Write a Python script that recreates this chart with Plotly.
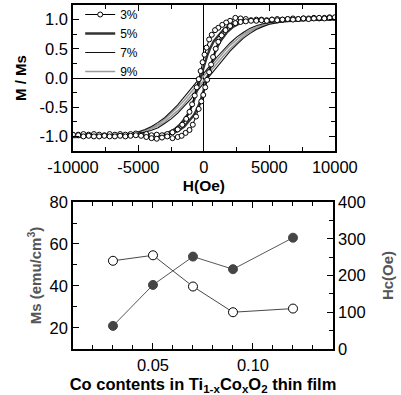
import plotly.graph_objects as go

# ---------------- top panel: hysteresis loops (H in Oe, M/Ms) ----------------
h3 = [10000, 9600, 9200, 8800, 8400, 8000, 7600, 7200, 6800, 6400, 6000, 5600, 5200, 4800, 4400,
      4000, 3600, 3200, 2800, 2400, 2000, 1700, 1400, 1100, 850, 600, 400, 200, 50, -100, -250,
      -400, -550, -700, -900, -1100, -1350, -1650, -2000, -2400, -2800, -3200, -3600, -4000,
      -4400, -4800, -5200, -5600, -6000, -6400, -6800, -7200, -7600, -8000, -8400, -8800, -9200,
      -9600, -10000,
      -9600, -9200, -8800, -8400, -8000, -7600, -7200, -6800, -6400, -6000, -5600, -5200, -4800,
      -4400, -4000, -3600, -3200, -2800, -2400, -2000, -1700, -1400, -1100, -850, -600, -400,
      -200, -50, 100, 250, 400, 550, 700, 900, 1100, 1350, 1650, 2000, 2400, 2800, 3200, 3600,
      4000, 4400, 4800, 5200, 5600, 6000, 6400, 6800, 7200, 7600, 8000, 8400, 8800, 9200, 9600,
      10000]
m3 = [1.03, 1.04, 1.03, 1.02, 1.03, 1.02, 1.02, 1.01, 1.02, 1.01, 1.00, 1.01, 1.00, 0.99, 1.00,
      1.00, 0.99, 1.01, 1.02, 1.03, 0.98, 0.95, 0.91, 0.86, 0.82, 0.74, 0.66, 0.52, 0.40, 0.27,
      0.12, -0.02, -0.16, -0.30, -0.45, -0.58, -0.70, -0.80, -0.88, -0.93, -0.96, -0.98, -0.97,
      -0.98, -0.96, -0.97, -0.95, -0.96, -0.97, -0.96, -0.97, -0.96, -0.98, -0.97, -0.96, -0.97,
      -0.96, -0.97, -0.97,
      -0.98, -1.00, -0.99, -1.00, -1.00, -0.99, -1.00, -1.00, -0.99, -1.00, -0.99, -0.98, -0.99,
      -1.01, -1.03, -1.04, -1.02, -1.00, -1.03, -1.01, -0.99, -0.94, -0.89, -0.80, -0.66, -0.53,
      -0.40, -0.29, -0.16, -0.03, 0.10, 0.23, 0.36, 0.50, 0.62, 0.73, 0.82, 0.89, 0.94, 0.96,
      0.97, 0.98, 0.98, 0.99, 0.98, 1.00, 0.99, 1.00, 1.01, 1.00, 1.01, 1.02, 1.01, 1.02, 1.03,
      1.02, 1.03, 1.04]

h5 = [10000, 9000, 8000, 7000, 6000, 5000, 4000, 3500, 3000, 2500, 2000, 1500, 1000, 750, 500,
      250, 0, -250, -500, -750, -1000, -1250, -1750, -2250, -2750, -3250, -4000, -5000, -6000,
      -7000, -8000, -9000, -10000,
      -9000, -8000, -7000, -6000, -5000, -4000, -3500, -3000, -2500, -2000, -1500, -1000, -750,
      -500, -250, 0, 250, 500, 750, 1000, 1250, 1750, 2250, 2750, 3250, 4000, 5000, 6000, 7000,
      8000, 9000, 10000]
m5 = [1.01, 1.005, 1.00, 0.998, 0.995, 0.99, 0.982, 0.978, 0.972, 0.955, 0.91, 0.83, 0.705, 0.63,
      0.52, 0.38, 0.20, 0.00, -0.20, -0.38, -0.52, -0.63, -0.78, -0.88, -0.94, -0.97, -0.978,
      -0.988, -0.993, -0.997, -1.00, -1.00, -1.01,
      -1.005, -1.00, -0.998, -0.995, -0.99, -0.982, -0.978, -0.972, -0.955, -0.91, -0.83, -0.705,
      -0.63, -0.52, -0.38, -0.20, 0.00, 0.20, 0.38, 0.52, 0.63, 0.78, 0.88, 0.94, 0.97, 0.978,
      0.988, 0.993, 0.997, 1.00, 1.00, 1.01]

h79 = [10000, 9000, 8000, 7000, 6000, 5000, 4500, 4000, 3500, 3000, 2500, 2000, 1500, 1000, 500,
       0, -500, -1000, -1500, -2000, -2500, -3000, -3500, -4000, -4500, -5000, -6000, -7000,
       -8000, -9000, -10000,
       -9000, -8000, -7000, -6000, -5000, -4500, -4000, -3500, -3000, -2500, -2000, -1500, -1000,
       -500, 0, 500, 1000, 1500, 2000, 2500, 3000, 3500, 4000, 4500, 5000, 6000, 7000, 8000,
       9000, 10000]
m7 = [1.00, 1.00, 0.99, 0.985, 0.975, 0.95, 0.93, 0.895, 0.85, 0.78, 0.70, 0.60, 0.48, 0.36, 0.22,
      0.08, -0.06, -0.20, -0.33, -0.46, -0.57, -0.68, -0.76, -0.83, -0.88, -0.92, -0.96, -0.975,
      -0.985, -0.99, -1.00,
      -1.00, -0.99, -0.985, -0.975, -0.95, -0.93, -0.895, -0.85, -0.78, -0.70, -0.60, -0.48,
      -0.36, -0.22, -0.08, 0.06, 0.20, 0.33, 0.46, 0.57, 0.68, 0.76, 0.83, 0.88, 0.92, 0.96,
      0.975, 0.985, 0.99, 1.00]
m9 = [1.00, 0.995, 0.99, 0.98, 0.965, 0.94, 0.91, 0.87, 0.82, 0.75, 0.66, 0.56, 0.44, 0.31, 0.17,
      0.04, -0.11, -0.25, -0.38, -0.50, -0.61, -0.71, -0.79, -0.85, -0.90, -0.93, -0.96, -0.975,
      -0.985, -0.99, -0.99,
      -0.99, -0.985, -0.975, -0.96, -0.94, -0.91, -0.87, -0.82, -0.75, -0.66, -0.56, -0.44,
      -0.31, -0.17, -0.04, 0.11, 0.25, 0.38, 0.50, 0.61, 0.71, 0.79, 0.85, 0.90, 0.93, 0.965,
      0.98, 0.99, 0.995, 1.00]

h_ticks = [-10000, -5000, 0, 5000, 10000]
h_ticktext = ["-10000", "-5000", "0", "5000", "10000"]
m_ticks = [-1.0, -0.5, 0.0, 0.5, 1.0]
m_ticktext = ["-1.0", "-0.5", "0.0", "0.5", "1.0"]

# ---------------- bottom panel ----------------
co = [0.03, 0.05, 0.07, 0.09, 0.12]
ms = [21, 40.5, 54, 48, 63]
hc = [240, 255, 170, 100, 110]
co_ticks = [0.05, 0.10]
co_ticktext = ["0.05", "0.10"]
ms_ticks = [20, 40, 60, 80]
hc_ticks = [0, 100, 200, 300, 400]

FONT = "Liberation Sans, Arial, sans-serif"

fig = go.Figure()

fig.add_trace(go.Scatter(x=h79, y=m9, mode="lines", name="9%", legendrank=4,
                         line=dict(color="#9a9a9a", width=1.6), xaxis="x", yaxis="y"))
fig.add_trace(go.Scatter(x=h79, y=m7, mode="lines", name="7%", legendrank=3,
                         line=dict(color="#111111", width=1.1), xaxis="x", yaxis="y"))
fig.add_trace(go.Scatter(x=h5, y=m5, mode="lines", name="5%", legendrank=2,
                         line=dict(color="#333333", width=2.4), xaxis="x", yaxis="y"))
fig.add_trace(go.Scatter(x=h3, y=m3, mode="lines+markers", name="3%", legendrank=1,
                         line=dict(color="#000000", width=1),
                         marker=dict(symbol="circle", size=5, color="white",
                                     line=dict(color="black", width=1)),
                         xaxis="x", yaxis="y"))

fig.add_trace(go.Scatter(x=co, y=ms, mode="lines+markers", showlegend=False,
                         line=dict(color="#444444", width=0.9),
                         marker=dict(size=9, color="#454545", line=dict(color="#454545", width=1)),
                         xaxis="x2", yaxis="y2"))
fig.add_trace(go.Scatter(x=co, y=hc, mode="lines+markers", showlegend=False,
                         line=dict(color="#333333", width=0.9),
                         marker=dict(size=9, color="white", line=dict(color="black", width=1)),
                         xaxis="x2", yaxis="y3"))

axis_common = dict(showline=True, linecolor="black", linewidth=1.5, ticks="inside",
                   ticklen=6, tickwidth=1, tickcolor="black", showgrid=False, automargin=False,
                   tickfont=dict(family=FONT, size=16.5, color="black"))

fig.update_layout(
    width=401, height=395, margin=dict(l=0, r=0, t=0, b=0, autoexpand=False),
    paper_bgcolor="white", plot_bgcolor="white",
    font=dict(family=FONT, color="black"),
    showlegend=True,
    legend=dict(x=0.2, y=1.0, xanchor="left", yanchor="top", bgcolor="rgba(0,0,0,0)",
                font=dict(family=FONT, size=12, color="black"), borderwidth=0),
    xaxis=dict(axis_common, domain=[0.182, 0.835], range=[-10000, 10000], anchor="y",
               tickmode="array", tickvals=h_ticks, ticktext=h_ticktext, mirror="ticks",
               zeroline=True, zerolinecolor="black", zerolinewidth=1.3,
               minor=dict(dtick=2500, ticks="inside", ticklen=4, tickcolor="black"),
               title=dict(text="<b>H(Oe)</b>", font=dict(family=FONT, size=15.5), standoff=6)),
    yaxis=dict(axis_common, domain=[0.6177, 0.9873], range=[-1.25, 1.25], anchor="x",
               tickmode="array", tickvals=m_ticks, ticktext=m_ticktext, mirror="ticks",
               zeroline=True, zerolinecolor="black", zerolinewidth=1.3,
               minor=dict(dtick=0.25, ticks="inside", ticklen=4, tickcolor="black"),
               title=dict(text="<b>M / Ms</b>", font=dict(family=FONT, size=15), standoff=9)),
    xaxis2=dict(axis_common, domain=[0.182, 0.8304], range=[0.01, 0.14], anchor="y2",
                tickmode="array", tickvals=co_ticks, ticktext=co_ticktext, mirror="ticks",
                zeroline=False,
                minor=dict(dtick=0.01, ticks="inside", ticklen=4, tickcolor="black"),
                title=dict(text="<b>Co contents in Ti<sub>1-x</sub>Co<sub>x</sub>O<sub>2</sub> thin film</b>",
                           font=dict(family=FONT, size=16.5), standoff=7)),
    yaxis2=dict(axis_common, domain=[0.1165, 0.4886], range=[10, 80], anchor="x2",
                tickmode="array", tickvals=ms_ticks, zeroline=False,
                minor=dict(dtick=10, ticks="inside", ticklen=4, tickcolor="black"),
                title=dict(text="<b>Ms (emu/cm<sup>3</sup>)</b>",
                           font=dict(family=FONT, size=15, color="#555555"), standoff=4)),
    yaxis3=dict(axis_common, range=[0, 400], anchor="x2", overlaying="y2", side="right",
                tickmode="array", tickvals=hc_ticks, zeroline=False,
                minor=dict(dtick=50, ticks="inside", ticklen=4, tickcolor="black"),
                title=dict(text="<b>Hc(Oe)</b>",
                           font=dict(family=FONT, size=15, color="#555555"), standoff=18)),
)

fig.write_html("out.html", config={"displayModeBar": False},
               post_script="document.body.style.margin='0';document.body.style.padding='0';")
